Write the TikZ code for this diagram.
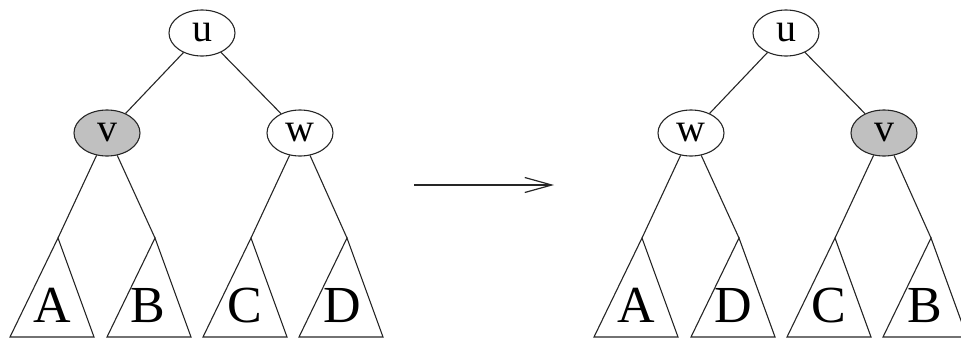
\documentclass[tikz,border=0pt]{standalone}
\usepackage{fontspec}
\setmainfont{Liberation Serif}
\usetikzlibrary{shapes.geometric,arrows.meta}
\definecolor{shade}{RGB}{192,192,192}
\begin{document}
\begin{tikzpicture}[x=1pt,y=-1pt,
  nd/.style={ellipse,draw=black!85,line width=1.1pt,minimum width=66pt,minimum height=46pt,inner sep=0pt,font=\fontsize{40}{40}\selectfont},
  hl/.style={nd,fill=shade},
  edge/.style={draw=black!85,line width=1.1pt},
  tri/.style={draw=black!85,line width=1.1pt},
  big/.style={anchor=base,inner sep=0pt,font=\fontsize{52}{52}\selectfont}]
\useasboundingbox (0,0) rectangle (961,341);
% ---------- left tree ----------
\node[nd] (u1) at (202,33) {u};
\node[hl] (v1) at (107,133) {v};
\node[nd] (w1) at (300,133) {w};
\coordinate (a1) at (58,238);
\coordinate (b1) at (155,238);
\coordinate (c1) at (251,238);
\coordinate (d1) at (347,238);
\draw[edge] (u1) -- (v1);
\draw[edge] (u1) -- (w1);
\draw[edge] (v1) -- (a1);
\draw[edge] (v1) -- (b1);
\draw[edge] (w1) -- (c1);
\draw[edge] (w1) -- (d1);
\foreach \p in {a1,b1,c1,d1}
  \draw[tri] (\p) -- ++(-48,99) -- ++(84,0) -- cycle;
\node[big] (tA1) at (52,322) {A};
\node[big] (tB1) at (148,322) {B};
\node[big] (tC1) at (245,322) {C};
\node[big] (tD1) at (342,322) {D};
% ---------- arrow ----------
\coordinate (s) at (414,185);
\coordinate (e) at (554,185);
\draw[edge,line width=1.2pt,-{Straight Barb[length=27pt,width=15pt,line width=1.2pt]}] (s) -- (e);
% ---------- right tree ----------
\node[nd] (u2) at (786,33) {u};
\node[nd] (w2) at (691,133) {w};
\node[hl] (v2) at (884,133) {v};
\coordinate (a2) at (642,238);
\coordinate (d2) at (739,238);
\coordinate (c2) at (835,238);
\coordinate (b2) at (931,238);
\draw[edge] (u2) -- (w2);
\draw[edge] (u2) -- (v2);
\draw[edge] (w2) -- (a2);
\draw[edge] (w2) -- (d2);
\draw[edge] (v2) -- (c2);
\draw[edge] (v2) -- (b2);
\foreach \p in {a2,d2,c2,b2}
  \draw[tri] (\p) -- ++(-48,99) -- ++(84,0) -- cycle;
\node[big] (tA2) at (636,322) {A};
\node[big] (tD2) at (733,322) {D};
\node[big] (tC2) at (829,322) {C};
\node[big] (tB2) at (925,322) {B};
\end{tikzpicture}
\end{document}
